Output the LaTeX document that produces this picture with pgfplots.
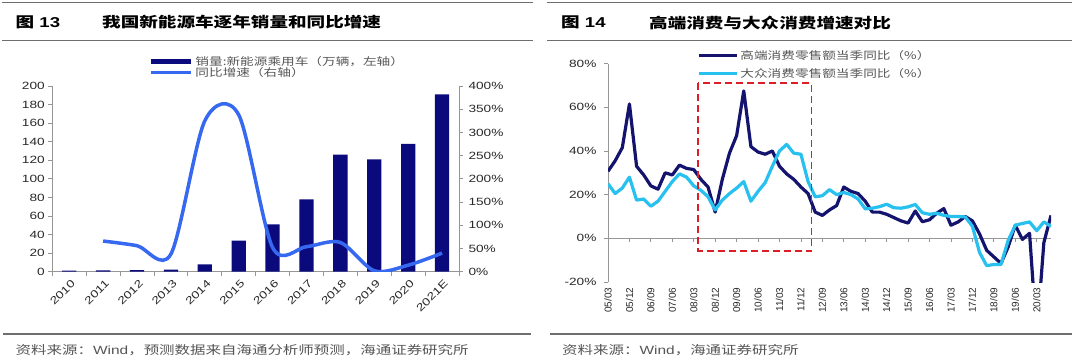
\documentclass[border=0pt]{standalone}
\usepackage{fontspec}
\setmainfont{Liberation Sans}[FakeStretch=1.3]
\newfontfamily\plainsf{Liberation Sans}
\newfontfamily\cjk{Noto Sans CJK SC}[FakeStretch=1.3]
\usepackage{pgfplots}
\usepackage{pgfplotstable}
\pgfplotsset{compat=1.18}
\definecolor{navy}{RGB}{10,10,125}
\definecolor{lblue}{RGB}{55,105,240}
\definecolor{dnavy}{RGB}{20,20,110}
\definecolor{cyanl}{RGB}{40,192,238}
\definecolor{axgray}{RGB}{150,150,150}
\definecolor{txt}{RGB}{40,40,40}
\definecolor{legtxt}{RGB}{85,85,85}
\definecolor{rdash}{RGB}{220,30,40}
\definecolor{rule}{RGB}{110,110,110}

\pgfplotstableread{
i hi lo
0 30.7 25
1 35.5 20.5
2 41.5 23
3 61.5 28
4 33 17.5
5 29 18
6 24 14.7
7 22.5 17
8 30 21.5
9 29 26
10 33.5 29.5
11 32 28
12 31.5 24
13 27 22
14 23.5 19
15 12 13
16 27 17.5
17 39 20.5
18 47 23
19 67.5 26
20 42 17
21 39.5 21.5
22 38.5 25.5
23 40 33
24 33 40
25 29.5 43
26 27 39
27 23.5 38.5
28 20.5 26
29 12 19
30 10.5 19.5
31 13 22.3
32 15 20
33 23.5 21
34 21.5 20
35 20.5 18
36 17 13.5
37 12 13.8
38 12 14.5
39 11 15.6
40 9.5 14
41 8 13.8
42 7 14.4
43 12.5 15.5
44 7.6 11.7
45 8.5 11
46 11.5 11.5
47 13.6 10.5
48 6 10
49 7.5 10
50 10 9.8
51 8 5.5
52 2 -6.5
53 -5.5 -12.5
54 -8.5 -12
55 -11.5 -12
56 -4 -1
57 6 6
58 -0.5 6.8
59 2.3 7.5
60 -45 3.5
61 -2 7.5
62 10.5 5.5
}\rdata

\tikzset{tlab/.style={font=\fontsize{10.5}{10.5}\selectfont, text=txt}}
\pgfplotsset{
  /pgf/number format/assume math mode=true,
  leftax/.style={scale only axis, width=406.7pt, height=185.7pt,
    at={(52.3pt,88.3pt)}, anchor=south west, xmin=-0.5, xmax=11.5,
    axis line style={axgray, line width=0.8pt},
    tick style={axgray, line width=0.8pt},
    tick align=outside, major tick length=4pt, minor tick length=4pt,
    every tick label/.append style={tlab}},
}

\begin{document}
\begin{tikzpicture}[x=1pt,y=1pt]
\useasboundingbox (0,0) rectangle (1080,360);
% header rules
\draw[rule, line width=1.2pt] (2,357.2) -- (533,357.2);
\draw[rule, line width=1.2pt] (2,319.2) -- (533,319.2);
\draw[rule, line width=1.2pt] (547,357.2) -- (1072,357.2);
\draw[rule, line width=1.2pt] (547,319.2) -- (1072,319.2);
% titles
\node[anchor=west, inner sep=0pt, font=\fontsize{14.3}{14.3}\selectfont\bfseries] at (15.5,337.5) {{\cjk 图} 13};
\node[anchor=west, inner sep=0pt, font=\cjk\fontsize{14.3}{14.3}\selectfont\bfseries] at (102,337.5) {我国新能源车逐年销量和同比增速};
\node[anchor=west, inner sep=0pt, font=\fontsize{14.3}{14.3}\selectfont\bfseries] at (561,337.5) {{\cjk 图} 14};
\node[anchor=west, inner sep=0pt, font=\cjk\fontsize{14.3}{14.3}\selectfont\bfseries] at (649,337.5) {高端消费与大众消费增速对比};
% footer
\draw[rule, line width=1.2pt] (3,26) -- (531,26);
\draw[rule, line width=1.2pt] (550,26) -- (1072,26);
\node[anchor=west, inner sep=0pt, text=legtxt, font=\fontsize{11.9}{11.9}\selectfont] at (15.5,10) {\cjk 资料来源：\normalfont Wind\cjk ，预测数据来自海通分析师预测，海通证券研究所};
\node[anchor=west, inner sep=0pt, text=legtxt, font=\fontsize{11.9}{11.9}\selectfont] at (562,10) {\cjk 资料来源：\normalfont Wind\cjk ，海通证券研究所};

% ---------- left chart: bars ----------
\begin{axis}[leftax,
  ymin=0, ymax=200, ytick={0,20,...,200},
  axis x line*=bottom, axis y line*=left,
  xtick={0,1,...,11},
  xticklabels={2010,2011,2012,2013,2014,2015,2016,2017,2018,2019,2020,2021E},
  xticklabel style={rotate=45, anchor=north east, xshift=2pt},
  major x tick style={draw=none},
  minor xtick={-0.5,0.5,...,11.5},
  minor x tick style={axgray, line width=0.8pt},
  legend style={draw=none, fill=none, at={(0.236,1.172)}, anchor=north west,
    font=\cjk\fontsize{10.5}{10.5}\selectfont, text=legtxt, row sep=-3pt, inner sep=0pt},
  legend cell align=left,
]
\addplot[ybar, bar width=14.3pt, fill=navy, draw=none, forget plot] coordinates {
(0,1.2) (1,1.3) (2,1.8) (3,2.3) (4,7.9) (5,33.4) (6,51) (7,78) (8,126) (9,121) (10,137.6) (11,191)};
\addlegendimage{legend image code/.code={\draw[navy, line width=5pt] (0pt,0pt) -- (40pt,0pt);}}
\addlegendentry{销量:新能源乘用车（万辆，左轴）}
\addlegendimage{legend image code/.code={\draw[lblue, line width=3pt] (0pt,0pt) -- (40pt,0pt);}}
\addlegendentry{同比增速（右轴）}
\end{axis}

% ---------- left chart: growth line ----------
\begin{axis}[leftax,
  ymin=0, ymax=400, ytick={0,50,...,400},
  yticklabel={\pgfmathprintnumber{\tick}\%},
  yticklabel style={xshift=2pt},
  axis y line*=right, axis x line=none,
]
\addplot[lblue, line width=3.5pt, smooth, tension=0.5] coordinates {
(1,66) (2,56) (3,38) (4,325) (5,338) (6,52) (7,54) (8,63) (9,2) (10,14) (11,40)};
\end{axis}

% ---------- right chart ----------
\begin{axis}[scale only axis, width=443pt, height=218.4pt,
  at={(608pt,78pt)}, anchor=south west,
  xmin=0, xmax=62, ymin=-20, ymax=80,
  ytick={-20,0,...,80},
  yticklabel={\pgfmathprintnumber{\tick}\%},
  axis y line*=left, axis x line*=bottom,
  x axis line style={draw=none},
  y axis line style={axgray, line width=0.8pt},
  ytick style={axgray, line width=0.8pt},
  xtick style={draw=none},
  tick align=outside, major tick length=4pt,
  every tick label/.append style={tlab},
  yticklabel style={xshift=-4pt},
  xtick={0,3,...,60},
  xticklabels={05/03,05/12,06/09,07/06,08/03,08/12,09/09,10/06,11/03,11/12,12/09,13/06,14/03,14/12,15/09,16/06,17/03,17/12,18/09,19/06,20/03},
  xticklabel style={rotate=90, anchor=east, font=\plainsf\fontsize{10}{10}\selectfont, xshift=2pt},
  legend style={draw=none, fill=none, at={(0.201,1.07)}, anchor=north west,
    font=\cjk\fontsize{10.5}{10.5}\selectfont, text=legtxt, row sep=3.5pt, inner sep=0pt},
  legend cell align=left,
  legend image code/.code={\draw[#1] (0pt,0pt) -- (38pt,0pt);},
]
\draw[axgray, line width=0.8pt] (axis cs:0,0) -- (axis cs:62,0);
\pgfplotsinvokeforeach{3,6,...,60}{\draw[axgray, line width=0.8pt] (axis cs:#1,0) -- ++(0pt,-4pt);}
\addplot[dnavy, line width=3.2pt, line join=round] table[x=i, y=hi] {\rdata};
\addlegendentry{高端消费零售额当季同比（\%）}
\addplot[cyanl, line width=3.2pt, line join=round] table[x=i, y=lo] {\rdata};
\addlegendentry{大众消费零售额当季同比（\%）}
\draw[rdash, line width=1.6pt, dash pattern=on 7pt off 4pt] (axis cs:12.6,71) rectangle (axis cs:28.5,-5.7);
\end{axis}
\end{tikzpicture}
\end{document}
